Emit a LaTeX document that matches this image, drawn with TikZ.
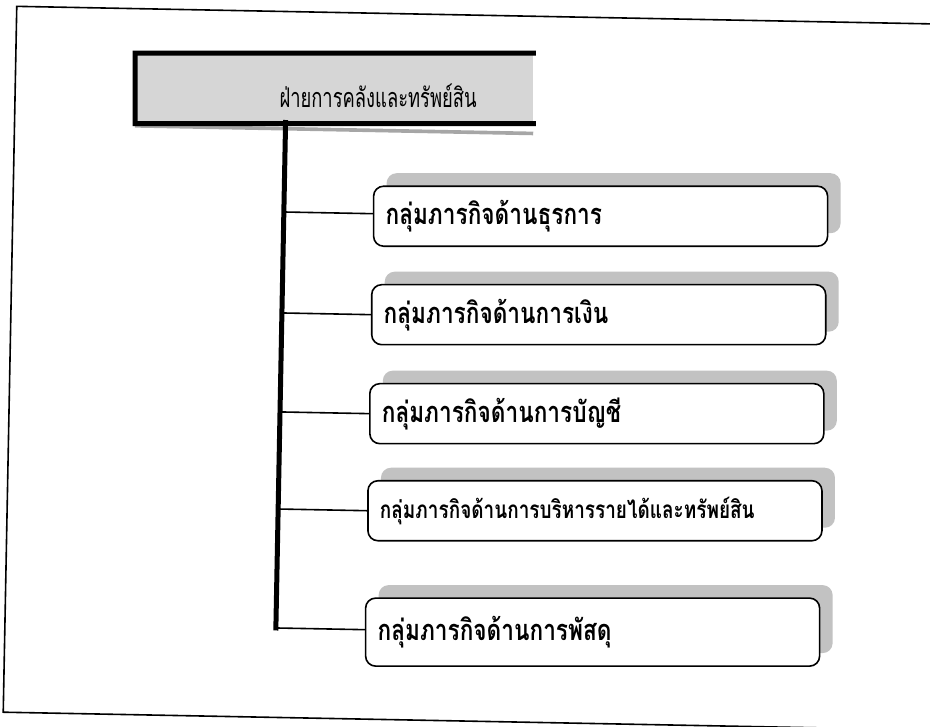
\documentclass[tikz,border=0pt]{standalone}
\usepackage{fontspec}
\newfontfamily\thaifont[Script=Thai, FakeStretch=0.78]{Loma}
\newfontfamily\thaitopfont[Script=Thai, FakeStretch=0.68]{Loma}
\usetikzlibrary{shadows,calc}
\tikzset{
  frameline/.style={line width=1.6pt, black},
  topbox/.style={rectangle, inner sep=0pt, minimum width=398pt, minimum height=70pt, fill=black!16},
  topborder/.style={line width=5pt, black, line cap=rect},
  toptext/.style={inner sep=0pt, font=\thaitopfont\fontsize{27pt}{31pt}\selectfont},
  childbox/.style={rectangle, draw=black, line width=1.6pt, rounded corners=10pt,
    fill=white, text width=430pt, align=left, inner xsep=12pt, minimum height=60pt,
    anchor=west, font=\thaifont\bfseries\fontsize{29pt}{33pt}\selectfont,
    general shadow={shadow xshift=13pt, shadow yshift=13pt, fill=black!24, draw=none}},
  trunkline/.style={line width=5pt, black, line cap=rect},
  branch/.style={line width=1.6pt, black}
}
\begin{document}
\begin{tikzpicture}[x=1pt,y=-1pt]
\useasboundingbox (0,0) rectangle (930,727);
\clip (0,0) rectangle (930,727);
\begin{scope}[rotate around={-1.1:(465,363)}]
  % outer frame
  \draw[frameline] (960,15) -- (10,15) -- (10,721) -- (960,721);
  % top box
  \node[topbox] (top) at (329,91) {};
  \fill[black!35] ($(top.south west)+(0,4)$) rectangle ($(top.south east)+(0,8)$);
  \draw[topborder] (top.north east) -- (top.north west) -- (top.south west) -- (top.south east);
  \node[toptext] (tt) at (373,97) {ฝ่ายการคลังและทรัพย์สิน};
  % trunk
  \coordinate (trunk) at (281,126);
  % children
  \node[childbox] (b1) at (370,218) {กลุ่มภารกิจด้านธุรการ};
  \node[childbox] (b2) at (370,316.5) {กลุ่มภารกิจด้านการเงิน};
  \node[childbox] (b3) at (370,415.5) {กลุ่มภารกิจด้านการบัญชี};
  \node[childbox, font=\thaifont\bfseries\fontsize{24.3pt}{28pt}\selectfont] (b4) at (370,512.6) {กลุ่มภารกิจด้านการบริหารรายได้และทรัพย์สิน};
  \node[childbox, minimum height=68pt] (b5) at (370,634) {กลุ่มภารกิจด้านการพัสดุ};
  \coordinate (j1) at (281,215.5);
  \coordinate (j5) at (281,631.6);
  \draw[trunkline] (trunk) -- (j5);
  \draw[branch] (j1) -- (j1 -| b1.west);
  \draw[branch] (b2.west -| trunk) -- (b2.west);
  \draw[branch] (b3.west -| trunk) -- (b3.west);
  \draw[branch] (b4.west -| trunk) -- (b4.west);
  \draw[branch] (j5) -- (j5 -| b5.west);
\end{scope}
\end{tikzpicture}
\end{document}
